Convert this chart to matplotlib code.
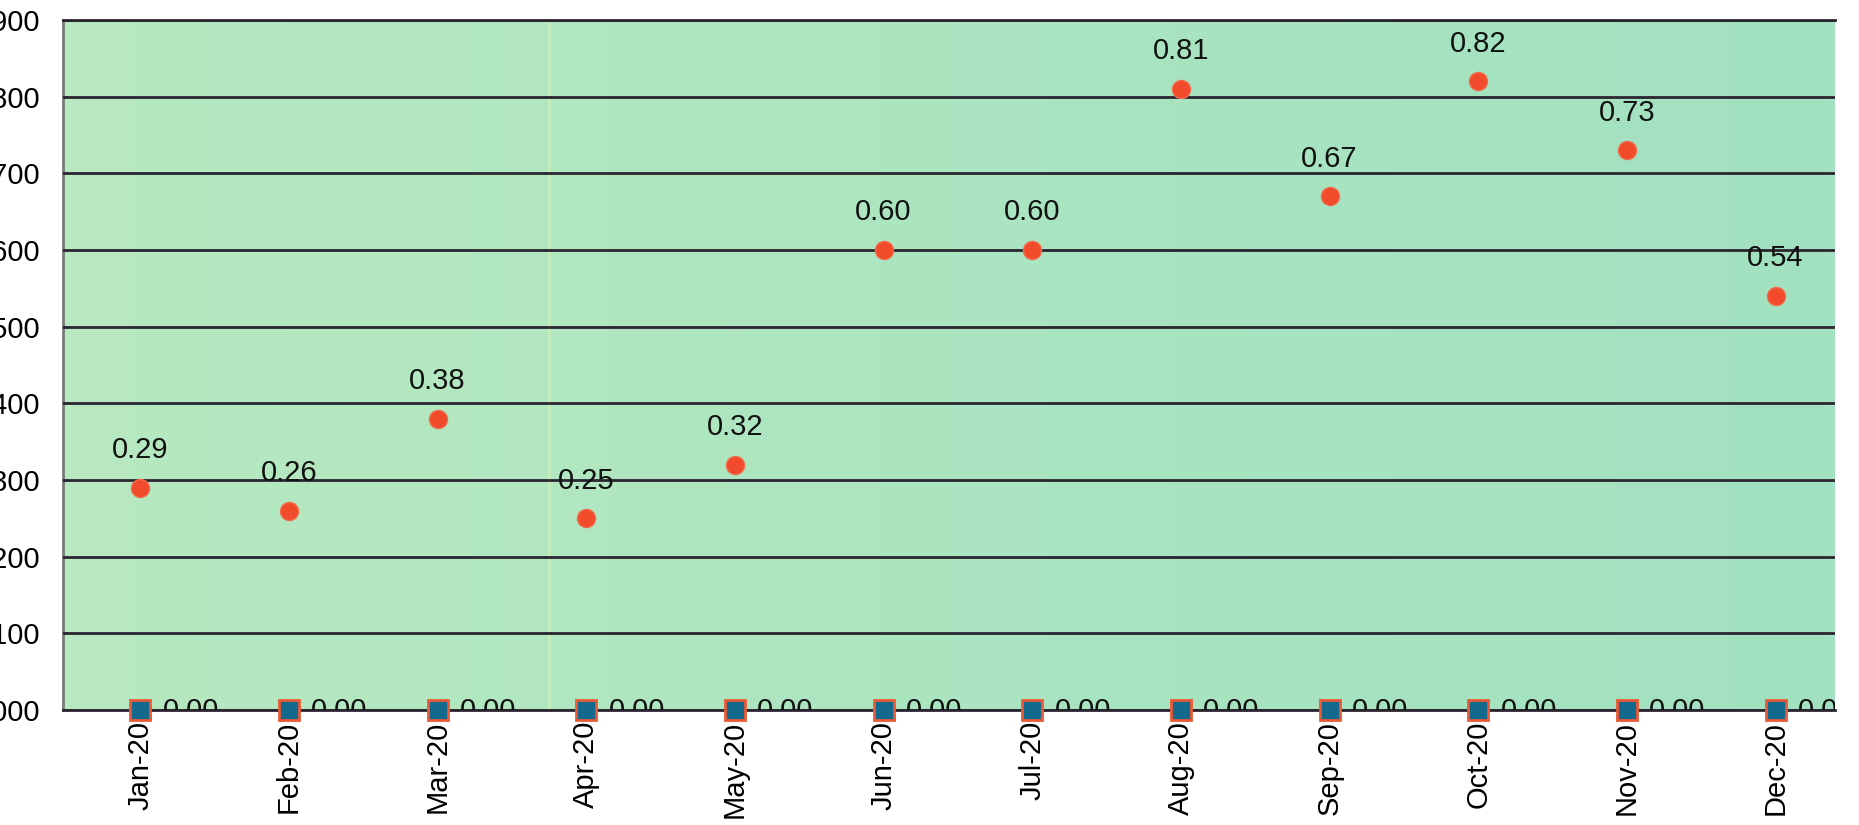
import numpy as np
import matplotlib
matplotlib.use('Agg')
import matplotlib.pyplot as plt
from matplotlib.colors import LinearSegmentedColormap

plt.rcParams['font.family'] = ['Liberation Sans', 'DejaVu Sans']

# Data
months = ['Jan-20', 'Feb-20', 'Mar-20', 'Apr-20', 'May-20', 'Jun-20',
          'Jul-20', 'Aug-20', 'Sep-20', 'Oct-20', 'Nov-20', 'Dec-20']
series_a = [0.29, 0.26, 0.38, 0.25, 0.32, 0.60, 0.60, 0.81, 0.67, 0.82, 0.73, 0.54]
series_b = [0.00] * 12
y_ticks = [0.0, 0.1, 0.2, 0.3, 0.4, 0.5, 0.6, 0.7, 0.8, 0.9]

FS = 21

fig = plt.figure(figsize=(18.59, 8.25), dpi=100)
W, H = 1859, 825
ax = fig.add_axes([63 / W, (H - 710) / H, (1835 - 63) / W, (710 - 20) / H])

x = np.arange(len(months))
ax.set_xlim(-0.52, 11.40)
ax.set_ylim(0, 0.9)

# green gradient background
cmap = LinearSegmentedColormap.from_list('bg', ['#b8e9c1', '#abe5c0', '#a2e1c1'])
grad = np.linspace(0, 1, 256).reshape(1, -1)
ax.imshow(grad, cmap=cmap, aspect='auto', extent=[-0.52, 11.40, 0, 0.9],
          zorder=0)
# faint lighter seam
ax.axvline(2.75, color='#c6edbd', lw=2, zorder=0.5)

ax.set_yticks(y_ticks)
ax.set_yticklabels([f'{v:.3f}' for v in y_ticks], fontsize=FS)
ax.grid(axis='y', color='#2a2530', lw=2)
ax.set_axisbelow(False)
ax.tick_params(axis='y', length=0, pad=16)
ax.tick_params(axis='x', length=0, pad=8)
ax.set_xticks(x)
ax.set_xticklabels(months, rotation=90, fontsize=FS)

ax.spines['right'].set_visible(False)
ax.spines['left'].set_color('#7a7a7a')
ax.spines['left'].set_linewidth(2)
ax.spines['top'].set_color('#2a2530')
ax.spines['top'].set_linewidth(2)
ax.spines['bottom'].set_color('#2a2530')
ax.spines['bottom'].set_linewidth(2)

ax.plot(x, series_a, 'o', ms=13, color='#f24b2c', mec='#f26a4a', mew=1,
        zorder=4, clip_on=False)
ax.plot(x, series_b, 's', ms=15, color='#136a8c', mec='#ea5a36', mew=2,
        zorder=4, clip_on=False)

for xi, v in zip(x, series_a):
    ax.annotate(f'{v:.2f}', (xi, v), xytext=(0, 27), textcoords='offset points',
                ha='center', va='center', fontsize=FS, color='#111111', zorder=5)
for xi, v in zip(x, series_b):
    t = ax.annotate(f'{v:.2f}', (xi, v), xytext=(16, -1), textcoords='offset points',
                    ha='left', va='center', fontsize=FS, color='#111111',
                    zorder=5, annotation_clip=False)
    t.set_clip_on(True)
    t.set_clip_box(ax.bbox)

fig.savefig('out.png', dpi=100)
